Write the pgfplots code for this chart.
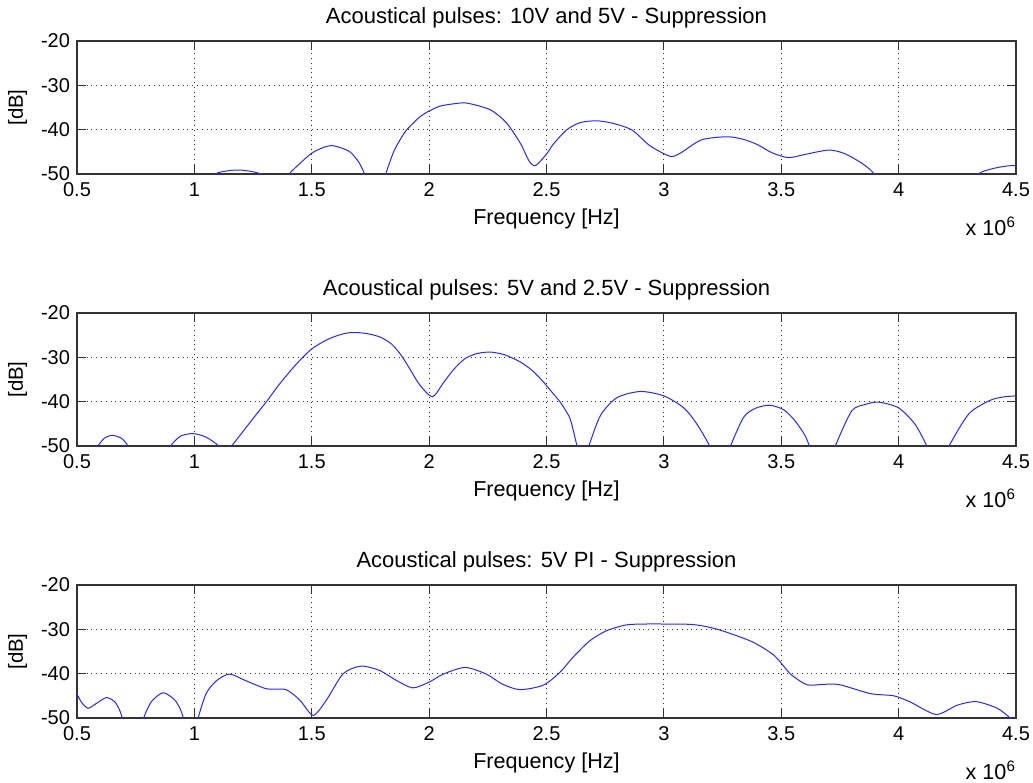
\documentclass[border=0pt]{standalone}
\usepackage{fontspec}
\setmainfont{Liberation Sans}
\usepackage{pgfplots}
\pgfplotsset{compat=1.18}
\definecolor{mblue}{HTML}{2828FF}

\pgfplotsset{
  matfig/.style={
    width=469.5pt, height=66.5pt, scale only axis,
    xmin=0.5, xmax=4.5, ymin=-50, ymax=-20,
    xtick={0.5,1,1.5,2,2.5,3,3.5,4,4.5},
    ytick={-50,-40,-30,-20},
    /pgf/number format/assume math mode=true,
    tick label style={font=\fontsize{10}{12}\selectfont},
    xticklabel style={anchor=base, yshift=-11pt},
    title style={font=\fontsize{11}{13}\selectfont, at={(axis description cs:0.5,1)}, anchor=base, yshift=3pt},
    every axis x label/.style={font=\fontsize{10.8}{12}\selectfont, at={(axis description cs:0.5,0)}, anchor=base, yshift=-25pt},
    every axis y label/.style={font=\fontsize{10.2}{12}\selectfont, at={(axis description cs:-0.0633,0.5)}, anchor=center, rotate=90},
    xlabel={Frequency [Hz]},
    ylabel={[dB]},
    grid=major,
    grid style={dotted, line width=0.5pt, black!80},
    tick align=inside,
    major tick length=4.7pt,
    tick style={black!80, line width=0.5pt},
    axis line style={black!80, line width=0.55pt},
    clip mode=individual,
  },
  curve/.style={mblue, line width=0.5pt, smooth, tension=0.45, no marks},
}

\newcommand{\xscale}{%
  \node[anchor=base east, font=\fontsize{10.8}{12}\selectfont] at (rel axis cs:1,0) [xshift=3.5pt, yshift=-30.5pt] {x 10\textsuperscript{6}};}

\begin{document}
\begin{tikzpicture}
\path[use as bounding box] (-38.5pt,-304pt) rectangle (478pt,87pt);

% 10V and 5V
\begin{axis}[matfig, at={(0pt,0pt)}, anchor=south west,
  title={Acoustical pulses: 10V and 5V - Suppression}]
\addplot[curve] coordinates {
  (0.50,-60) (0.90,-60) (1.06,-53) (1.09,-50) (1.14,-49.3) (1.19,-49.1)
  (1.24,-49.4) (1.28,-50) (1.31,-52) (1.35,-54) (1.38,-52.5) (1.404,-50)
  (1.45,-47.6) (1.50,-45.3) (1.55,-44.0) (1.587,-43.6) (1.63,-44.2)
  (1.665,-45.1) (1.70,-47.3) (1.725,-50) (1.75,-54) (1.79,-54) (1.815,-50)
  (1.848,-45.1) (1.875,-42.4) (1.905,-40.0) (1.961,-37.1) (2.00,-35.8)
  (2.046,-34.7) (2.10,-34.2) (2.16,-34.0) (2.26,-35.5) (2.33,-38.5)
  (2.39,-43.2) (2.425,-47.0) (2.453,-48.1) (2.50,-45.5) (2.53,-43.2)
  (2.587,-40.0) (2.644,-38.4) (2.715,-38.0) (2.785,-38.6) (2.865,-40.1)
  (2.94,-43.6) (3.026,-46.0) (3.07,-45.3) (3.16,-42.3) (3.27,-41.6)
  (3.34,-42.2) (3.40,-43.4) (3.46,-45.2) (3.53,-46.3) (3.60,-45.6)
  (3.70,-44.6) (3.76,-45.2) (3.81,-46.5) (3.86,-48.2) (3.895,-50)
  (3.93,-54) (4.10,-60) (4.30,-54) (4.34,-50) (4.40,-48.8) (4.46,-48.2)
  (4.50,-48.1)
};
\xscale
\end{axis}

% 5V and 2.5V
\begin{axis}[matfig, at={(0pt,-136pt)}, anchor=south west,
  title={Acoustical pulses: 5V and 2.5V - Suppression}]
\addplot[curve] coordinates {
  (0.50,-60) (0.56,-53) (0.589,-50) (0.62,-48.1) (0.653,-47.6) (0.69,-48.3)
  (0.717,-50) (0.75,-54) (0.80,-56) (0.86,-53) (0.898,-50) (0.94,-47.8)
  (0.994,-47.2) (1.05,-48.0) (1.105,-50) (1.13,-51.5) (1.158,-50)
  (1.20,-47.2) (1.25,-43.8) (1.307,-40.0) (1.36,-36.2) (1.41,-33.0)
  (1.449,-30.7) (1.50,-28.1) (1.562,-26.1) (1.62,-24.9) (1.669,-24.4)
  (1.73,-24.6) (1.79,-25.4) (1.84,-27.0) (1.882,-29.6) (1.92,-32.8)
  (1.96,-36.2) (2.014,-38.9) (2.06,-35.8) (2.102,-32.9) (2.15,-30.4)
  (2.20,-29.2) (2.259,-28.8) (2.32,-29.4) (2.387,-31.0) (2.44,-33.0)
  (2.486,-35.5) (2.53,-38.3) (2.557,-40.0) (2.60,-43.8) (2.63,-50)
  (2.65,-54) (2.68,-50) (2.73,-43.1) (2.80,-39.1) (2.90,-37.7)
  (3.00,-38.7) (3.085,-41.4) (3.14,-45.0) (3.195,-50) (3.22,-54)
  (3.26,-54) (3.284,-50) (3.34,-43.5) (3.39,-41.5) (3.45,-40.8)
  (3.51,-41.8) (3.557,-44.2) (3.60,-47.5) (3.62,-50) (3.65,-54)
  (3.70,-54) (3.73,-50) (3.80,-42.1) (3.86,-40.6) (3.915,-40.1)
  (4.00,-41.4) (4.07,-45.1) (4.12,-50) (4.15,-54) (4.19,-54) (4.215,-50)
  (4.30,-42.7) (4.39,-39.7) (4.45,-38.9) (4.50,-38.7)
};
\xscale
\end{axis}

% 5V PI
\begin{axis}[matfig, at={(0pt,-272pt)}, anchor=south west,
  title={Acoustical pulses: 5V PI - Suppression}]
\addplot[curve] coordinates {
  (0.50,-44.6) (0.52,-46.5) (0.547,-47.8) (0.58,-46.8) (0.625,-45.4)
  (0.66,-46.3) (0.68,-48.0) (0.693,-50) (0.72,-55) (0.76,-55) (0.784,-50)
  (0.817,-46.3) (0.867,-44.3) (0.916,-45.9) (0.94,-48.0) (0.953,-50)
  (0.98,-55) (1.00,-54) (1.016,-50) (1.05,-44.5) (1.094,-41.6)
  (1.15,-40.1) (1.22,-41.6) (1.307,-43.4) (1.39,-43.6) (1.45,-46.0)
  (1.506,-49.4) (1.562,-46.0) (1.634,-40.0) (1.71,-38.3) (1.79,-39.3)
  (1.86,-41.5) (1.93,-43.2) (2.00,-41.9) (2.06,-40.1) (2.153,-38.6)
  (2.244,-40.1) (2.31,-42.3) (2.386,-43.6) (2.486,-42.6) (2.557,-39.7)
  (2.613,-36.3) (2.684,-32.6) (2.756,-30.3) (2.84,-29.0) (2.92,-28.8)
  (3.00,-28.8) (3.12,-28.9) (3.20,-29.6) (3.27,-30.7) (3.38,-32.9)
  (3.47,-35.9) (3.54,-40.1) (3.61,-42.5) (3.68,-42.4) (3.75,-42.5)
  (3.88,-44.5) (3.98,-45.0) (4.05,-46.4) (4.16,-49.2) (4.25,-47.1)
  (4.33,-46.3) (4.42,-47.8) (4.475,-50) (4.50,-51.5)
};
\xscale
\end{axis}
\end{tikzpicture}
\end{document}
